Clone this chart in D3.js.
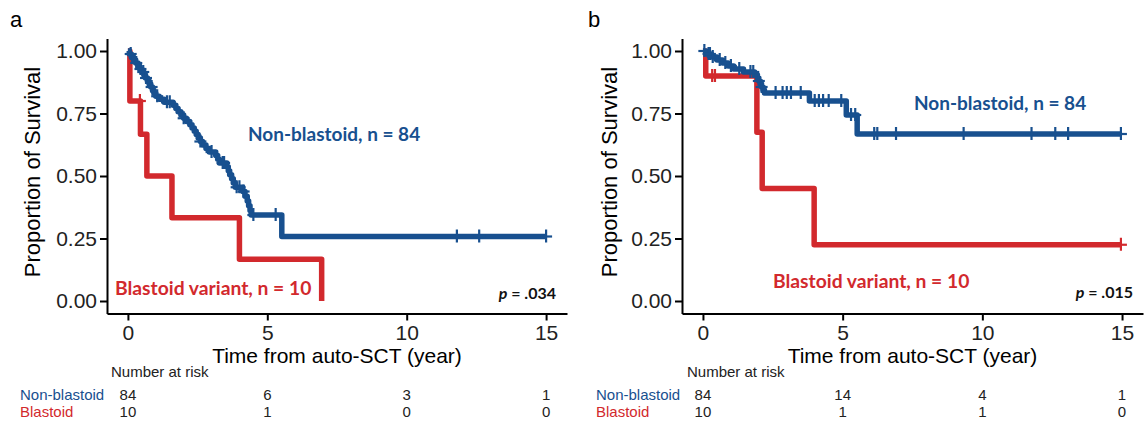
<!DOCTYPE html>
<meta charset="utf-8">
<style>
  body { margin: 0; background: #fff; }
  svg { display: block; }
  .axis path, .axis line { stroke: #000; stroke-width: 2; }
  .axis text { font-family: "Liberation Sans", Arial, sans-serif; font-size: 21px; fill: #222; }
</style>
<script src="https://d3js.org/d3.v7.min.js"></script>
<div id="chart"></div>
<script>

// tick values
var timeTicks = [0, 5, 10, 15];
var survTicks = [0, 0.25, 0.5, 0.75, 1];

// panel a : step points [time, survival]
var nonBlastoidA = [[0,1],[0.05,0.988],[0.12,0.976],[0.2,0.964],[0.28,0.952],[0.36,0.94],[0.42,0.928],
  [0.5,0.916],[0.57,0.904],[0.63,0.892],[0.7,0.88],[0.76,0.868],[0.82,0.856],[0.88,0.843],[0.93,0.831],
  [1.0,0.819],[1.12,0.807],[1.3,0.795],[1.62,0.783],[1.72,0.77],[1.8,0.757],[1.9,0.744],[2.0,0.731],
  [2.1,0.718],[2.22,0.705],[2.3,0.692],[2.38,0.679],[2.45,0.666],[2.52,0.652],[2.6,0.638],[2.68,0.624],
  [2.8,0.61],[2.92,0.596],[3.15,0.582],[3.22,0.567],[3.28,0.552],[3.55,0.537],[3.6,0.521],[3.65,0.505],
  [3.72,0.489],[3.78,0.472],[3.85,0.455],[4.12,0.438],[4.2,0.419],[4.28,0.4],[4.33,0.381],[4.38,0.362],
  [4.42,0.344],[5.52,0.258],[15,0.258]];
var nonBlastoidCensA = [0.1,0.3,0.45,0.55,0.65,0.85,1.05,1.4,1.5,2.0,2.6,3.0,3.4,3.45,3.9,4.0,4.15,4.5,5.3,11.8,12.6,15];
var blastoidA = [[0,1],[0.07,0.8],[0.45,0.667],[0.68,0.5],[1.58,0.333],[4.0,0.167],[6.95,0]];
var blastoidCensA = [0.43];

// panel b
var nonBlastoidB = [[0,1],[0.12,0.988],[0.3,0.976],[0.5,0.964],[0.7,0.952],[0.9,0.94],[1.1,0.928],
  [1.45,0.916],[1.85,0.904],[1.95,0.892],[2.0,0.88],[2.05,0.868],[2.1,0.856],[2.15,0.844],[2.2,0.832],
  [3.81,0.8],[5.13,0.744],[5.52,0.668],[15,0.668]];
var nonBlastoidCensB = [0.05,0.2,0.25,0.35,0.6,0.8,1.0,1.3,1.7,1.8,2.0,2.1,2.6,2.85,3.0,3.15,3.5,4.0,4.15,4.3,
  4.5,4.95,5.3,5.45,6.13,6.24,6.91,9.33,11.76,12.61,13.07,14.96];
var blastoidB = [[0,1],[0.1,0.9],[1.93,0.675],[2.12,0.45],[3.98,0.225],[14.96,0.225]];
var blastoidCensB = [0.33,0.43,14.96];

// number at risk at timeTicks
var riskNonA = [84, 6, 3, 1];
var riskBlaA = [10, 1, 0, 0];
var riskNonB = [84, 14, 4, 1];
var riskBlaB = [10, 1, 1, 0];

var blue = "#18508f", red = "#d2292d";

var panels = [
  { label: "a", left: 107, right: 567, non: nonBlastoidA, nonCens: nonBlastoidCensA, bla: blastoidA, blaCens: blastoidCensA,
    riskNon: riskNonA, riskBla: riskBlaA, p: ".034",
    nonPos: [248, 141], blaPos: [115, 295], pPos: [556, 299], tag: [10, 27], yTitleX: 40, rowX: 20, narX: 111 },
  { label: "b", left: 682, right: 1143, non: nonBlastoidB, nonCens: nonBlastoidCensB, bla: blastoidB, blaCens: blastoidCensB,
    riskNon: riskNonB, riskBla: riskBlaB, p: ".015",
    nonPos: [914, 110], blaPos: [773, 288], pPos: [1133, 298], tag: [588, 27], yTitleX: 617, rowX: 596, narX: 687 }
];

var plotTop = 38.5, plotBottom = 313.5;

var svg = d3.select("#chart").append("svg")
  .attr("width", 1146)
  .attr("height", 422);

function survAt(steps, t) {
  var s = steps[0][1];
  steps.forEach(function(d) { if (d[0] <= t) s = d[1]; });
  return s;
}

panels.forEach(function(p) {
  var x = d3.scaleLinear().domain([-0.75, 15.75]).range([p.left, p.right]);
  var y = d3.scaleLinear().domain([-0.05, 1.05]).range([plotBottom, plotTop]);

  var line = d3.line()
    .curve(d3.curveStepAfter)
    .x(function(d) { return x(d[0]) })
    .y(function(d) { return y(d[1]) });

  // axes
  var gx = svg.append("g").attr("class", "axis")
    .attr("transform", "translate(0," + plotBottom + ")")
    .call(d3.axisBottom(x).tickValues(timeTicks).tickSize(7).tickSizeOuter(0));
  gx.selectAll("text").attr("y", 26).attr("dy", 0);

  svg.append("g").attr("class", "axis")
    .attr("transform", "translate(" + p.left + ",0)")
    .call(d3.axisLeft(y).tickValues(survTicks).tickFormat(d3.format(".2f")).tickSize(7).tickPadding(3).tickSizeOuter(0));

  // axis titles
  svg.append("text")
    .attr("x", (p.left + p.right) / 2)
    .attr("y", 363)
    .attr("text-anchor", "middle")
    .style("font-family", "Liberation Sans, Arial, sans-serif")
    .style("font-size", "21px")
    .text("Time from auto-SCT (year)");

  svg.append("text")
    .attr("transform", "translate(" + p.yTitleX + "," + ((plotTop + plotBottom) / 2 - 4) + ") rotate(-90)")
    .attr("text-anchor", "middle")
    .style("font-family", "Liberation Sans, Arial, sans-serif")
    .style("font-size", "22px")
    .text("Proportion of Survival");

  svg.append("text")
    .attr("x", p.tag[0]).attr("y", p.tag[1])
    .style("font-family", "Liberation Sans, Arial, sans-serif")
    .style("font-size", "22px")
    .text(p.label);

  // curves
  var groups = [
    { steps: p.bla, cens: p.blaCens, color: red },
    { steps: p.non, cens: p.nonCens, color: blue }
  ];
  groups.forEach(function(g) {
    svg.append("path")
      .datum(g.steps)
      .attr("d", line)
      .attr("fill", "none")
      .attr("stroke", g.color)
      .attr("stroke-width", 5.5)
      .attr("stroke-linejoin", "round");

    var marks = svg.append("g").selectAll("g")
      .data(g.cens)
      .enter().append("g")
      .attr("transform", function(t) { return "translate(" + x(t) + "," + y(survAt(g.steps, t)) + ")" })
      .attr("stroke", g.color)
      .attr("stroke-width", 2.2);
    marks.append("line").attr("x1", 0).attr("x2", 0).attr("y1", -7).attr("y2", 6);
    marks.append("line").attr("x1", -6).attr("x2", 6).attr("y1", 0).attr("y2", 0);
  });

  // annotations
  svg.append("text")
    .attr("x", p.nonPos[0]).attr("y", p.nonPos[1])
    .style("font-family", "Lato, sans-serif").style("font-weight", "bold").style("font-size", "19px")
    .attr("fill", blue)
    .text("Non-blastoid, n = 84");
  svg.append("text")
    .attr("x", p.blaPos[0]).attr("y", p.blaPos[1])
    .style("font-family", "Lato, sans-serif").style("font-weight", "bold").style("font-size", "19.3px")
    .attr("fill", red)
    .text("Blastoid variant, n = 10");
  var pt = svg.append("text")
    .attr("x", p.pPos[0]).attr("y", p.pPos[1])
    .attr("text-anchor", "end")
    .style("font-family", "Lato, sans-serif").style("font-weight", "bold").style("font-size", "16px")
    .attr("fill", "#111");
  pt.append("tspan").style("font-style", "italic").text("p");
  pt.append("tspan").text(" = " + p.p);

  // number at risk table
  var tf = "Liberation Sans, Arial, sans-serif";
  svg.append("text").attr("x", p.narX).attr("y", 377)
    .style("font-family", tf).style("font-size", "15px").attr("fill", "#222")
    .text("Number at risk");
  svg.append("text").attr("x", p.rowX).attr("y", 400)
    .style("font-family", tf).style("font-size", "15px").attr("fill", blue)
    .text("Non-blastoid");
  svg.append("text").attr("x", p.rowX).attr("y", 417)
    .style("font-family", tf).style("font-size", "15px").attr("fill", red)
    .text("Blastoid");

  [[p.riskNon, 400], [p.riskBla, 417]].forEach(function(r) {
    svg.append("g").selectAll("text")
      .data(r[0])
      .enter().append("text")
      .attr("x", function(d, i) { return x(timeTicks[i]) })
      .attr("y", r[1])
      .attr("text-anchor", "middle")
      .style("font-family", tf).style("font-size", "15px").attr("fill", "#222")
      .text(function(d) { return d });
  });
});

</script>
